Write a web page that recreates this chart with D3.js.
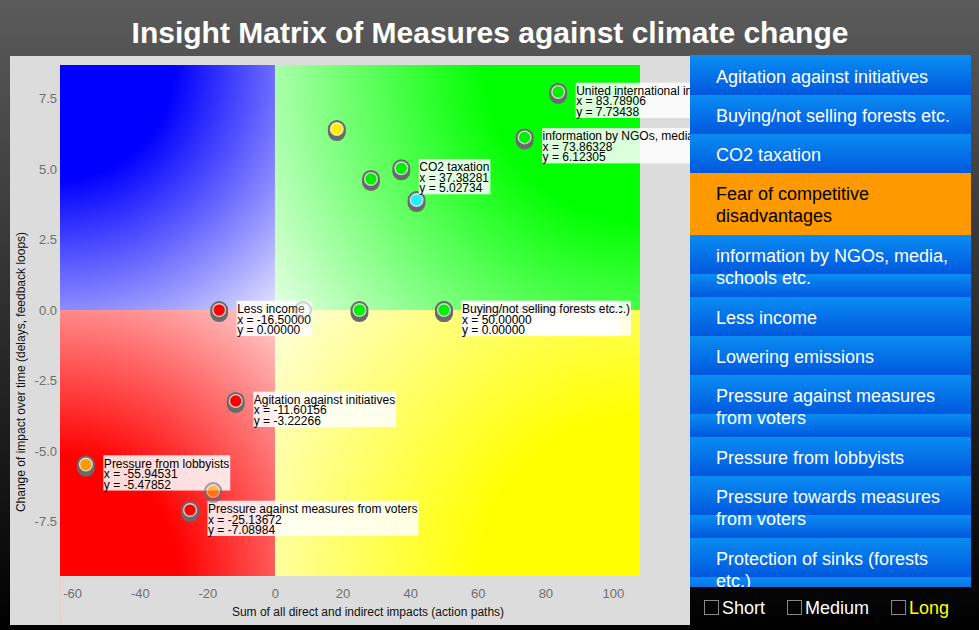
<!DOCTYPE html>
<html><head><meta charset="utf-8">
<script src="https://cdn.jsdelivr.net/npm/d3@7"></script>
<style>html,body{margin:0;padding:0;background:#000;overflow:hidden}</style>
</head><body>
<svg id="c" width="979" height="630"></svg>
<script>
// ---------------- data ----------------
const chartTitle = "Insight Matrix of Measures against climate change";
const xTitle = "Sum of all direct and indirect impacts (action paths)";
const yTitle = "Change of impact over time (delays, feedback loops)";
const xTicks = [-60, -40, -20, 0, 20, 40, 60, 80, 100];
const yTicks = [-7.5, -5.0, -2.5, 0.0, 2.5, 5.0, 7.5];

const pointNames = ["", "", "", "", "", "",
  "Less income", "Protection of sinks (forests etc.)", "Buying/not selling forests etc.",
  "Agitation against initiatives", "Pressure from lobbyists", "Pressure against measures from voters",
  "CO2 taxation", "information by NGOs, media, schools etc.", "United international initiatives"];
const pointX = [8.3, 25.0, 18.3, 28.4, 41.9, -18.3,
  -16.5, 50.0, 50.0, -11.60156, -55.94531, -25.13672, 37.38281, 73.86328, 83.78906];
const pointY = [0.0, 0.0, 6.42, 4.65, 3.9, -6.42,
  0.0, 0.0, 0.0, -3.22266, -5.47852, -7.08984, 5.02734, 6.12305, 7.73438];
const pointColor = ["#ffffff", "#00ee00", "#ffee00", "#00ee00", "#22eeff", "#ff9900",
  "#ff0000", "#00ee00", "#00ee00", "#ff0000", "#ff9900", "#ff0000", "#00ee00", "#00ee00", "#00ee00"];
const pointOpacity = [0.3, 1, 1, 1, 1, 0.6, 1, 1, 1, 1, 1, 1, 1, 1, 1];
const pointShadow = [false, true, true, true, true, true, true, true, true, true, true, true, true, true, true];
const pointLabelled = [false, false, false, false, false, false,
  true, true, true, true, true, true, true, true, true];

const legendLabels = ["Agitation against initiatives", "Buying/not selling forests etc.", "CO2 taxation",
  "Fear of competitive\ndisadvantages", "information by NGOs, media,\nschools etc.", "Less income",
  "Lowering emissions", "Pressure against measures\nfrom voters", "Pressure from lobbyists",
  "Pressure towards measures\nfrom voters", "Protection of sinks (forests\netc.)"];
const legendSelected = [false, false, false, true, false, false, false, false, false, false, false];
const filterLabels = ["Short", "Medium", "Long"];
const filterActive = [false, false, true];

// ---------------- drawing ----------------
const FONT = "'Liberation Sans', Arial, Helvetica, sans-serif";
const W = 979, H = 630;
const svg = d3.select("#c").style("font-family", FONT);
const defs = svg.append("defs");

const bg = defs.append("linearGradient").attr("id", "bg").attr("x1", 0).attr("y1", 0).attr("x2", 0).attr("y2", 1);
bg.append("stop").attr("offset", 0).attr("stop-color", "#5b5b5b");
bg.append("stop").attr("offset", 1).attr("stop-color", "#000");
svg.append("rect").attr("width", W).attr("height", H).attr("fill", "url(#bg)");

svg.append("text").attr("x", 490).attr("y", 43).attr("text-anchor", "middle")
  .attr("font-size", 30).attr("font-weight", "bold").attr("fill", "#fff").text(chartTitle);

// chart panel
svg.append("rect").attr("x", 10).attr("y", 56).attr("width", 680).attr("height", 569).attr("fill", "#dcdcdc");

const x = d3.scaleLinear().domain([-63.6, 108]).range([60, 640]);
const y = d3.scaleLinear().domain([-9.43, 8.69]).range([576, 65]);

const ox = x(0), oy = y(0);
const [dx0, dx1] = x.domain(), [dy0, dy1] = y.domain();
const quads = [
  {id: "qb", x0: x(dx0), x1: ox, y0: y(dy1), y1: oy, full: "#0000ff", light: "#e4e4ff", cx: x(dx0), cy: y(dy1)},
  {id: "qg", x0: ox, x1: x(dx1), y0: y(dy1), y1: oy, full: "#00ff00", light: "#e6ffe6", cx: x(dx1), cy: y(dy1)},
  {id: "qr", x0: x(dx0), x1: ox, y0: oy, y1: y(dy0), full: "#ff0000", light: "#ffd2d2", cx: x(dx0), cy: y(dy0)},
  {id: "qy", x0: ox, x1: x(dx1), y0: oy, y1: y(dy0), full: "#ffff00", light: "#ffffe0", cx: x(dx1), cy: y(dy0)}
];
quads.forEach(q => {
  const w = q.x1 - q.x0, h = q.y1 - q.y0;
  const r = Math.hypot(q.cx - ox, q.cy - oy);
  const g = defs.append("radialGradient").attr("id", q.id).attr("gradientUnits", "userSpaceOnUse")
    .attr("cx", q.cx).attr("cy", q.cy).attr("r", r);
  g.append("stop").attr("offset", 0).attr("stop-color", q.full);
  g.append("stop").attr("offset", 0.35).attr("stop-color", q.full);
  g.append("stop").attr("offset", 1).attr("stop-color", q.light);
  svg.append("rect").attr("x", q.x0).attr("y", q.y0).attr("width", w).attr("height", h).attr("fill", `url(#${q.id})`);
});

// faint axis line
svg.append("line").attr("x1", 60.5).attr("x2", 60.5).attr("y1", 576).attr("y2", 622).attr("stroke", "#ebcaca");

// axes
const xa = svg.append("g").attr("transform", "translate(0,576)")
  .call(d3.axisBottom(x).tickValues(xTicks).tickFormat(d => String(d)).tickSize(0).tickPadding(13));
const ya = svg.append("g").attr("transform", "translate(60,0)")
  .call(d3.axisLeft(y).tickValues(yTicks).tickFormat(d => d.toFixed(1)).tickSize(0).tickPadding(3));
[xa, ya].forEach(a => {
  a.select(".domain").remove();
  a.selectAll("text").attr("font-size", 13).attr("fill", "#6e6e6e").attr("font-family", FONT);
});
svg.append("text").attr("x", 368).attr("y", 616).attr("text-anchor", "middle").attr("font-size", 12)
  .attr("fill", "#111").text(xTitle);
svg.append("text").attr("transform", "translate(25,372) rotate(-90)").attr("text-anchor", "middle")
  .attr("font-size", 12).attr("fill", "#111").text(yTitle);

// points
const idx = d3.range(pointX.length);
function drawPoints(layer, list) {
  const pts = layer.selectAll("g").data(list).join("g")
    .attr("transform", i => `translate(${x(pointX[i])},${y(pointY[i])})`)
    .attr("opacity", i => pointOpacity[i]);
  pts.filter(i => pointShadow[i]).append("circle").attr("cy", 3).attr("r", 9).attr("fill", "#6a6a6a");
  pts.append("circle").attr("r", 9).attr("fill", "#6a6a6a");
  pts.append("circle").attr("r", 6.3).attr("fill", i => pointColor[i])
    .attr("stroke", "#fff").attr("stroke-opacity", 0.7).attr("stroke-width", 1.4);
}
drawPoints(svg.append("g"), idx.filter(i => pointOpacity[i] >= 1));

// labels
const labG = svg.append("g");
idx.filter(i => pointLabelled[i]).forEach(i => {
  const px = x(pointX[i]), py = y(pointY[i]);
  const g = labG.append("g").attr("transform", `translate(${px + 17.5},${py - 9.3})`);
  const rect = g.append("rect").attr("fill", "#fff").attr("fill-opacity", 0.86);
  const lines = [pointNames[i], "x = " + pointX[i].toFixed(5), "y = " + pointY[i].toFixed(5)];
  let mw = 0;
  lines.forEach((t, k) => {
    const tx = g.append("text").attr("x", 0.5).attr("y", 12.3 + 10.5 * k).attr("font-size", 12)
      .attr("fill", "#000").text(t);
    mw = Math.max(mw, tx.node().getComputedTextLength());
  });
  rect.attr("x", 0).attr("y", 0).attr("width", mw + 1.5).attr("height", 35.3);
});

// faded (transitioning) points on top
drawPoints(svg.append("g"), idx.filter(i => pointOpacity[i] < 1));

// legend
const LX = 690, LW = 281, LY = 56, LB = 587;
defs.append("clipPath").attr("id", "lclip").append("rect").attr("x", LX).attr("y", LY - 1).attr("width", LW).attr("height", LB - LY + 1);
const lg = defs.append("linearGradient").attr("id", "lgrad").attr("x1", 0).attr("y1", 0).attr("x2", 0).attr("y2", 1);
lg.append("stop").attr("offset", 0).attr("stop-color", "#0a8cf2");
lg.append("stop").attr("offset", 1).attr("stop-color", "#0058de");
const leg = svg.append("g").attr("clip-path", "url(#lclip)");
leg.append("rect").attr("x", LX).attr("y", LY - 1).attr("width", LW).attr("height", 2).attr("fill", "#0a8cf2");
let yy = LY;
legendLabels.forEach((lab, i) => {
  const lines = lab.split("\n");
  const h = 39 + 23 * (lines.length - 1);
  const g = leg.append("g");
  if (legendSelected[i]) {
    g.append("rect").attr("x", LX).attr("y", yy).attr("width", LW).attr("height", h).attr("fill", "#ff9900");
  } else {
    for (let k = 0; k * 39 < h; k++) {
      g.append("rect").attr("x", LX).attr("y", yy + 39 * k).attr("width", LW)
        .attr("height", Math.min(39, h - 39 * k)).attr("fill", "url(#lgrad)");
    }
  }
  lines.forEach((t, k) => {
    g.append("text").attr("x", 716).attr("y", yy + 26.5 + 22.5 * k).attr("font-size", 18)
      .attr("fill", legendSelected[i] ? "#000" : "#fff").text(t);
  });
  yy += h;
});

// filters
let fx = 704;
filterLabels.forEach((t, i) => {
  svg.append("rect").attr("x", fx + 0.5).attr("y", 600.5).attr("width", 14).attr("height", 14)
    .attr("fill", "none").attr("stroke", "#8a8a8a");
  const tx = svg.append("text").attr("x", fx + 18).attr("y", 613.5).attr("font-size", 18)
    .attr("fill", filterActive[i] ? "#ffff00" : "#fff").text(t);
  fx += 18 + tx.node().getComputedTextLength() + 22;
});
</script>
</body></html>
